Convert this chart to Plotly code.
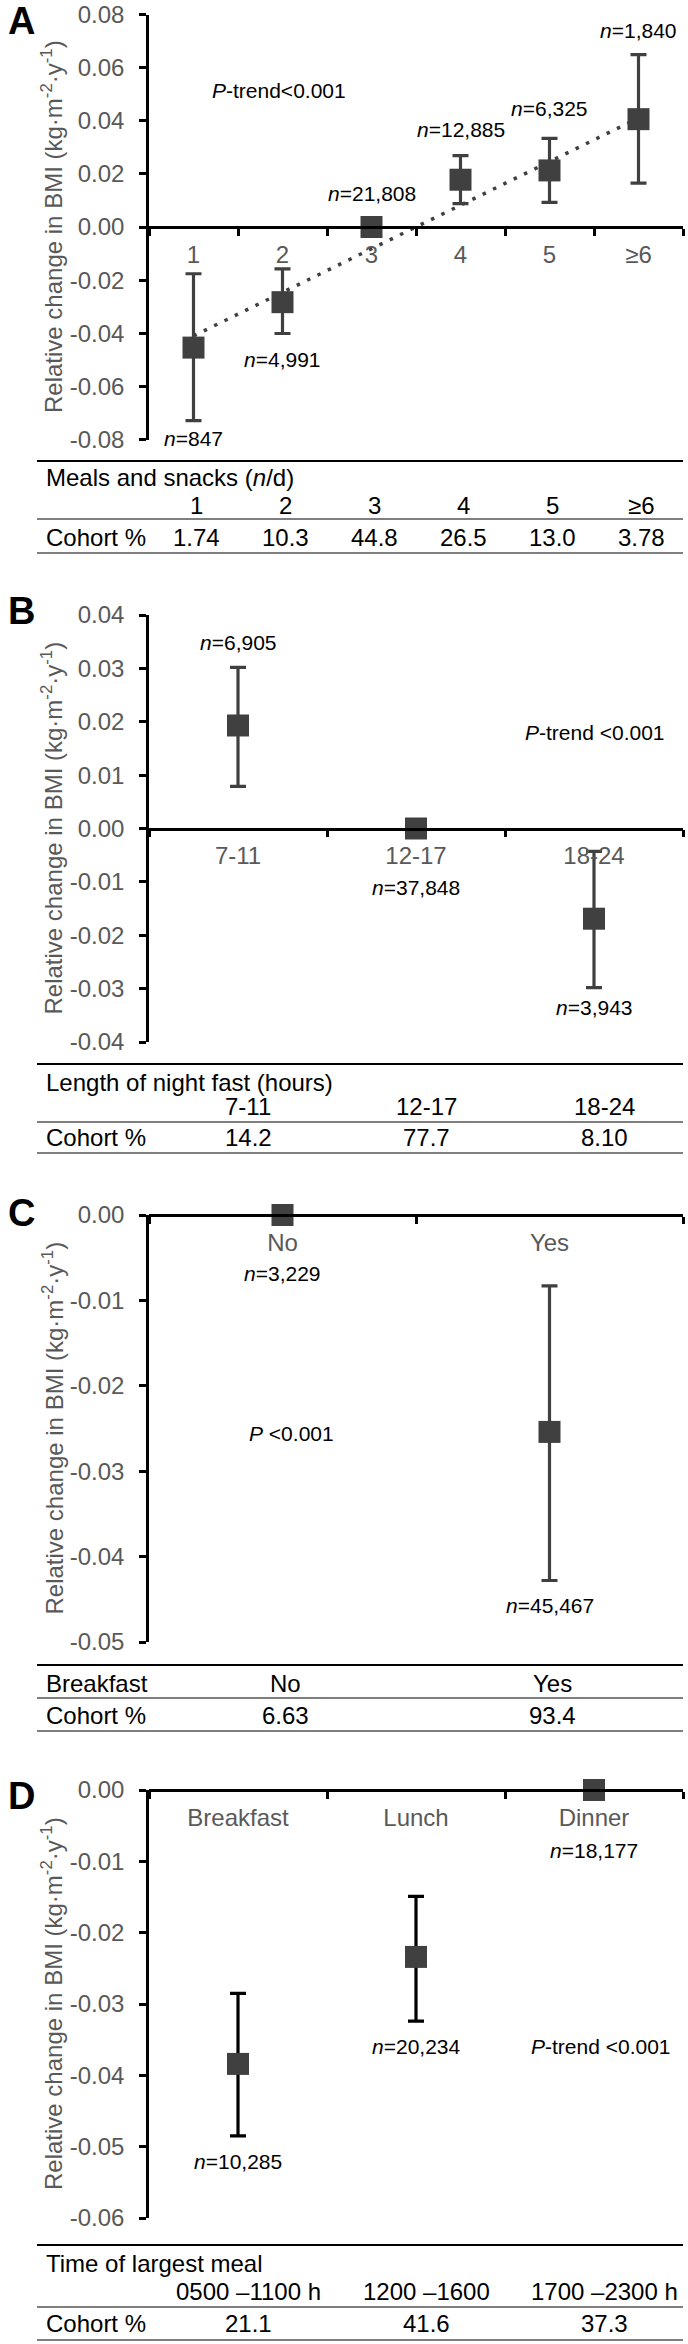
import plotly.graph_objects as go

# ---------------- data ----------------
A_cats = ['1', '2', '3', '4', '5', '≥6']
A_mean = [-0.0454, -0.0283, 0.0, 0.0178, 0.0213, 0.0406]
A_lo = [-0.0729, -0.0401, 0.0, 0.0088, 0.0093, 0.0165]
A_hi = [-0.0176, -0.0158, 0.0, 0.0269, 0.0334, 0.0649]
A_n = ['847', '4,991', '21,808', '12,885', '6,325', '1,840']
A_cohort = ['1.74', '10.3', '44.8', '26.5', '13.0', '3.78']
A_trend_x = ['1', '≥6']
A_trend_y = [-0.041, 0.041]
A_ticks = [0.08, 0.06, 0.04, 0.02, 0.0, -0.02, -0.04, -0.06, -0.08]
A_ticktext = ['0.08', '0.06', '0.04', '0.02', '0.00', '-0.02', '-0.04', '-0.06', '-0.08']

B_cats = ['7-11', '12-17', '18-24']
B_mean = [0.0193, 0.0, -0.0169]
B_lo = [0.0079, 0.0, -0.0298]
B_hi = [0.0302, 0.0, -0.0043]
B_n = ['6,905', '37,848', '3,943']
B_cohort = ['14.2', '77.7', '8.10']
B_ticks = [0.04, 0.03, 0.02, 0.01, 0.0, -0.01, -0.02, -0.03, -0.04]
B_ticktext = ['0.04', '0.03', '0.02', '0.01', '0.00', '-0.01', '-0.02', '-0.03', '-0.04']

C_cats = ['No', 'Yes']
C_mean = [0.0, -0.0254]
C_lo = [0.0, -0.0428]
C_hi = [0.0, -0.0083]
C_n = ['3,229', '45,467']
C_cohort = ['6.63', '93.4']
C_ticks = [0.0, -0.01, -0.02, -0.03, -0.04, -0.05]
C_ticktext = ['0.00', '-0.01', '-0.02', '-0.03', '-0.04', '-0.05']

D_cats = ['Breakfast', 'Lunch', 'Dinner']
D_mean = [-0.0384, -0.0234, 0.0]
D_lo = [-0.0485, -0.0324, 0.0]
D_hi = [-0.0285, -0.0149, 0.0]
D_n = ['10,285', '20,234', '18,177']
D_times = ['0500 –1100 h', '1200 –1600', '1700 –2300 h']
D_cohort = ['21.1', '41.6', '37.3']
D_ticks = [0.0, -0.01, -0.02, -0.03, -0.04, -0.05, -0.06]
D_ticktext = ['0.00', '-0.01', '-0.02', '-0.03', '-0.04', '-0.05', '-0.06']

# ---------------- layout helpers ----------------
W, H = 688, 2344


def fx(p):
    return p / W


def fy(p):
    return 1 - p / H


X0, X1 = 149, 683
FONT = 'Arial, "Liberation Sans", Helvetica, sans-serif'
GRAY_TXT = '#595959'
MARK = '#404040'
TICK_FS = 24
TAB_FS = 24
N_FS = 21

panels = [
    dict(letter='A', cats=A_cats, mean=A_mean, lo=A_lo, hi=A_hi, ticks=A_ticks, ticktext=A_ticktext,
         rng=[-0.08, 0.08], ytop=14.5, ybot=439.5, zero=227.0, letter_y=21, ebcolor=MARK,
         n=A_n, n_y=[438, 359, 194, 130, 109, 30],
         ptext='<i>P</i>-trend&lt;0.001', pxy=(279, 91)),
    dict(letter='B', cats=B_cats, mean=B_mean, lo=B_lo, hi=B_hi, ticks=B_ticks, ticktext=B_ticktext,
         rng=[-0.04, 0.04], ytop=615, ybot=1042, zero=828.5, letter_y=611, ebcolor=MARK,
         n=B_n, n_y=[642, 887, 1008],
         ptext='<i>P</i>-trend &lt;0.001', pxy=(595, 732)),
    dict(letter='C', cats=C_cats, mean=C_mean, lo=C_lo, hi=C_hi, ticks=C_ticks, ticktext=C_ticktext,
         rng=[-0.05, 0.0], ytop=1215, ybot=1642, zero=1215, letter_y=1213, ebcolor=MARK,
         n=C_n, n_y=[1273, 1605],
         ptext='<i>P</i> &lt;0.001', pxy=(291, 1433)),
    dict(letter='D', cats=D_cats, mean=D_mean, lo=D_lo, hi=D_hi, ticks=D_ticks, ticktext=D_ticktext,
         rng=[-0.06, 0.0], ytop=1790, ybot=2218, zero=1790, letter_y=1796, ebcolor='#000000',
         n=D_n, n_y=[2161, 2046, 1850],
         ptext='<i>P</i>-trend &lt;0.001', pxy=(601, 2046)),
]

fig = go.Figure()
annotations = []
shapes = []
layout_axes = {}

for i, p in enumerate(panels, start=1):
    xa = 'x' if i == 1 else f'x{i}'
    ya = 'y' if i == 1 else f'y{i}'
    xname = 'xaxis' if i == 1 else f'xaxis{i}'
    yname = 'yaxis' if i == 1 else f'yaxis{i}'
    ncat = len(p['cats'])

    layout_axes[xname] = dict(
        domain=[fx(X0), fx(X1)], type='category', categoryorder='array', categoryarray=p['cats'],
        range=[-0.5, ncat - 0.5], anchor='free', position=fy(p['zero']), side='bottom',
        showline=True, linecolor='black', linewidth=2.5, ticks='outside', ticklen=7,
        tickwidth=2.5, tickcolor='black', tickson='boundaries', showgrid=False, zeroline=False,
        tickfont=dict(size=TICK_FS, color=GRAY_TXT, family=FONT), ticklabelstandoff=5,
        ticklabeloverflow='allow', automargin=False, fixedrange=True)
    layout_axes[yname] = dict(
        domain=[fy(p['ybot']), fy(p['ytop'])], range=p['rng'], anchor=xa,
        showline=True, linecolor='black', linewidth=2.5, ticks='outside', ticklen=7,
        tickwidth=2.5, tickcolor='black', tickmode='array', tickvals=p['ticks'],
        ticktext=p['ticktext'], showgrid=False, zeroline=False,
        tickfont=dict(size=TICK_FS, color=GRAY_TXT, family=FONT), ticklabelstandoff=10,
        ticklabeloverflow='allow', automargin=False, fixedrange=True)

    if p['letter'] == 'A':
        fig.add_trace(go.Scatter(
            x=A_trend_x, y=A_trend_y, mode='lines',
            line=dict(color=MARK, width=3.5, dash='3.5px,8px'),
            xaxis=xa, yaxis=ya, hoverinfo='skip', cliponaxis=False))

    err_up = [h - m for h, m in zip(p['hi'], p['mean'])]
    err_dn = [m - l for m, l in zip(p['mean'], p['lo'])]
    fig.add_trace(go.Scatter(
        x=p['cats'], y=p['mean'], mode='markers',
        marker=dict(symbol='square', size=22, color=MARK, line=dict(width=0)),
        error_y=dict(type='data', symmetric=False, array=err_up, arrayminus=err_dn,
                     color=p['ebcolor'], thickness=3.2, width=8),
        xaxis=xa, yaxis=ya, cliponaxis=False))

    # panel letter
    annotations.append(dict(text=f"<b>{p['letter']}</b>", x=fx(21), y=fy(p['letter_y']),
                            xref='paper', yref='paper', showarrow=False, xanchor='center',
                            yanchor='middle', font=dict(size=38, color='black', family=FONT)))
    # y-axis title
    annotations.append(dict(text='Relative change in BMI (kg·m<sup>-2</sup>·y<sup>-1</sup>)',
                            x=fx(52), y=fy((p['ytop'] + p['ybot']) / 2), xref='paper', yref='paper',
                            showarrow=False, textangle=-90, xanchor='center', yanchor='middle',
                            font=dict(size=TICK_FS, color=GRAY_TXT, family=FONT)))
    # n labels (x given as category index on the category axis)
    for k, (nv, ny) in enumerate(zip(p['n'], p['n_y'])):
        annotations.append(dict(text=f'<i>n</i>={nv}', x=k, y=fy(ny), xref=xa, yref='paper',
                                showarrow=False, xanchor='center', yanchor='middle',
                                font=dict(size=N_FS, color='black', family=FONT)))
    # P text
    annotations.append(dict(text=p['ptext'], x=fx(p['pxy'][0]), y=fy(p['pxy'][1]), xref='paper',
                            yref='paper', showarrow=False, xanchor='center', yanchor='middle',
                            font=dict(size=N_FS, color='black', family=FONT)))

# ---------------- tables ----------------
TL0, TL1 = 37, 683


def hline(ypx, color, width):
    shapes.append(dict(type='line', xref='paper', yref='paper', x0=fx(TL0), x1=fx(TL1),
                       y0=fy(ypx), y1=fy(ypx), line=dict(color=color, width=width)))


def left_text(txt, ypx):
    annotations.append(dict(text=txt, x=fx(44), y=fy(ypx), xref='paper', yref='paper',
                            showarrow=False, xanchor='left', yanchor='middle',
                            font=dict(size=TAB_FS, color='black', family=FONT)))


def col_texts(texts, xa, ypx, shift=0):
    for k, t in enumerate(texts):
        annotations.append(dict(text=t, x=k, y=fy(ypx), xref=xa, yref='paper', xshift=shift,
                                showarrow=False, xanchor='center', yanchor='middle',
                                font=dict(size=TAB_FS, color='black', family=FONT)))


TAB_LINE_GRAY = '#7f7f7f'

# Table A
hline(461, 'black', 2)
left_text('Meals and snacks (<i>n</i>/d)', 478)
col_texts(A_cats, 'x', 505, 3)
hline(519, TAB_LINE_GRAY, 2)
left_text('Cohort %', 537)
col_texts(A_cohort, 'x', 537, 3)
hline(553, TAB_LINE_GRAY, 2)

# Table B
hline(1064, 'black', 2)
left_text('Length of night fast (hours)', 1082)
col_texts(B_cats, 'x2', 1106, 10)
hline(1122, TAB_LINE_GRAY, 2)
left_text('Cohort %', 1137)
col_texts(B_cohort, 'x2', 1137, 10)
hline(1153, TAB_LINE_GRAY, 2)

# Table C
hline(1665, 'black', 2)
left_text('Breakfast', 1683)
col_texts(C_cats, 'x3', 1683, 3)
hline(1698, TAB_LINE_GRAY, 2)
left_text('Cohort %', 1715)
col_texts(C_cohort, 'x3', 1715, 3)
hline(1731, TAB_LINE_GRAY, 2)

# Table D
hline(2245, 'black', 2)
left_text('Time of largest meal', 2263)
col_texts(D_times, 'x4', 2291, 10)
hline(2307, TAB_LINE_GRAY, 2)
left_text('Cohort %', 2323)
col_texts(D_cohort, 'x4', 2323, 10)
hline(2340, TAB_LINE_GRAY, 2)

fig.update_layout(
    template='none',
    width=W, height=H, autosize=False,
    margin=dict(l=0, r=0, t=0, b=0, pad=0),
    paper_bgcolor='white', plot_bgcolor='white',
    showlegend=False,
    font=dict(family=FONT, color='black'),
    annotations=annotations, shapes=shapes,
    **layout_axes)

fig.write_html('out.html', include_plotlyjs=True, config={'displayModeBar': False},
               post_script="document.body.style.margin='0';document.body.style.overflow='hidden';")
